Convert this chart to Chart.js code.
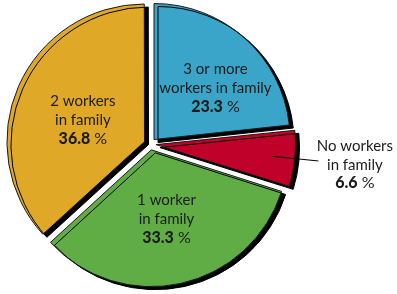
<!DOCTYPE html>
<html>
<head>
<meta charset="utf-8">
<script src="https://cdn.jsdelivr.net/npm/chart.js@4"></script>
<style>
  html, body { margin: 0; padding: 0; background: #fff; }
  #wrap { width: 397px; height: 294px; }
</style>
</head>
<body>
<div id="wrap"><canvas id="pieChart"></canvas></div>
<script>
// slices clockwise from 12 o'clock
const categories = ["3 or more workers in family", "No workers in family", "1 worker in family", "2 workers in family"];
const labelLines = [["3 or more", "workers in family"], ["No workers", "in family"], ["1 worker", "in family"], ["2 workers", "in family"]];
const shares = [23.3, 6.6, 33.3, 36.8];
const sliceColors = ["#3aa5c9", "#c0022b", "#61ad45", "#dfa826"];

const FONT = "Lato, 'Open Sans', sans-serif";
const TEXT = "#1c1c1c";

// hard black drop shadow under every slice
const shadowPlugin = {
  id: "sliceShadow",
  beforeDatasetsDraw(chart) {
    const ctx = chart.ctx;
    ctx.save();
    ctx.shadowColor = "#000";
    ctx.shadowOffsetX = 4;
    ctx.shadowOffsetY = 3;
    ctx.shadowBlur = 0;
  },
  afterDatasetsDraw(chart) {
    chart.ctx.restore();
  }
};

// where each label sits: fraction of radius out from the slice tip, and a small turn (deg)
const spots = [
  { r: 0.59, turn: 8 },
  { r: 1.47, turn: 0, outside: true },
  { r: 0.52, turn: 0 },
  { r: 0.48, turn: -4.5 }
];

const labelPlugin = {
  id: "sliceLabels",
  afterDatasetsDraw(chart) {
    const ctx = chart.ctx;
    const meta = chart.getDatasetMeta(0);
    meta.data.forEach((arc, i) => {
      const mid = (arc.startAngle + arc.endAngle) / 2;
      const shift = (arc.options.offset || 0) / 4;
      const tipX = arc.x + Math.cos(mid) * shift;
      const tipY = arc.y + Math.sin(mid) * shift;
      const R = arc.outerRadius;
      const a = mid + spots[i].turn * Math.PI / 180;
      const lx = tipX + Math.cos(a) * R * spots[i].r;
      const ly = tipY + Math.sin(a) * R * spots[i].r;

      ctx.save();
      if (spots[i].outside) {
        ctx.strokeStyle = "#000";
        ctx.lineWidth = 1;
        ctx.beginPath();
        ctx.moveTo(tipX + Math.cos(a) * R * 0.86, tipY + Math.sin(a) * R * 0.86);
        ctx.lineTo(tipX + Math.cos(a) * R * 1.2, tipY + Math.sin(a) * R * 1.2);
        ctx.stroke();
      }
      ctx.fillStyle = TEXT;
      ctx.textBaseline = "middle";
      const gap = 18.5;
      const lines = labelLines[i];
      const top = ly - gap * lines.length / 2;
      ctx.font = "15px " + FONT;
      ctx.textAlign = "center";
      lines.forEach((t, k) => ctx.fillText(t, lx, top + gap * k));

      // value line: bold number + regular " %"
      const num = shares[i].toFixed(1);
      const boldFont = "900 16px " + FONT;
      ctx.font = boldFont;
      const wNum = ctx.measureText(num).width;
      ctx.font = "16px " + FONT;
      const wPct = ctx.measureText(" %").width;
      const x0 = lx - (wNum + wPct) / 2;
      const y = top + gap * lines.length;
      ctx.textAlign = "left";
      ctx.font = boldFont;
      ctx.fillText(num, x0, y);
      ctx.font = "16px " + FONT;
      ctx.fillText(" %", x0 + wNum, y);
      ctx.restore();
    });
  }
};

new Chart(document.getElementById("pieChart"), {
  type: "pie",
  data: {
    labels: categories,
    datasets: [{
      data: shares,
      backgroundColor: sliceColors,
      borderColor: "#1a1a1a",
      borderWidth: 1,
      offset: 24
    }]
  },
  options: {
    responsive: true,
    maintainAspectRatio: false,
    animation: false,
    events: [],
    radius: 136,
    layout: { padding: { left: 0, right: 97, top: 0, bottom: 6 } },
    plugins: {
      legend: { display: false },
      tooltip: { enabled: false }
    }
  },
  plugins: [shadowPlugin, labelPlugin]
});
</script>
</body>
</html>
